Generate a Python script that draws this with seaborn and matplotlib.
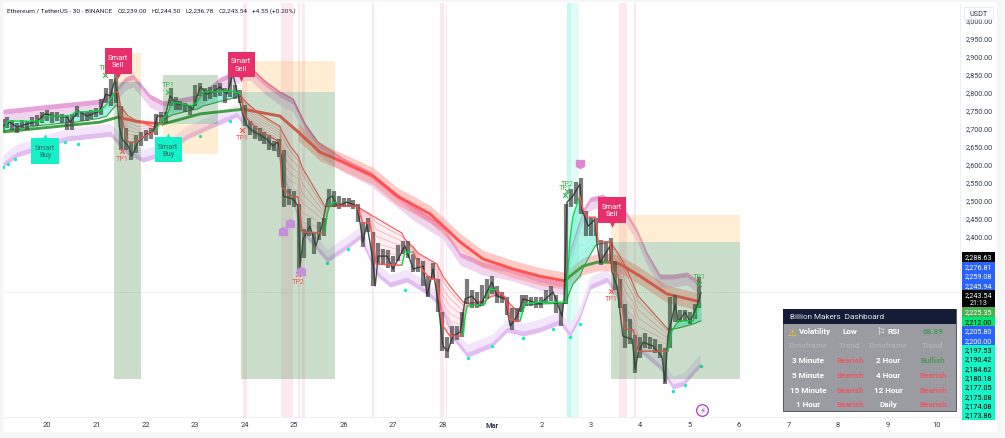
import numpy as np
import seaborn as sns
import matplotlib.pyplot as plt
from matplotlib.patches import Rectangle
from matplotlib.path import Path

# Candle path (day number, Mar 1 = 29)
price_days = [19.11, 19.25, 19.39, 19.60, 19.80, 19.96, 20.16, 20.41, 20.47, 20.63, 20.81, 21.07, 21.19, 21.28, 21.38, 21.42,
              21.46, 21.52, 21.64, 21.72, 21.84, 22.02, 22.15, 22.23, 22.39, 22.49, 22.63, 22.83, 22.95, 23.10, 23.24, 23.36,
              23.50, 23.64, 23.76, 23.86, 23.97, 24.05, 24.17, 24.45, 24.57, 24.67, 24.75, 24.78, 24.98, 25.08, 25.12, 25.18,
              25.32, 25.44, 25.56, 25.67, 25.77, 25.87, 26.07, 26.27, 26.33, 26.39, 26.47, 26.58, 26.64, 26.70, 26.88, 27.00,
              27.24, 27.41, 27.61, 27.69, 27.81, 27.91, 28.01, 28.11, 28.21, 28.36, 28.46, 28.60, 28.76, 29.00, 29.10, 29.27,
              29.37, 29.51, 29.63, 29.97, 30.24, 30.42, 30.46, 30.52, 30.64, 30.78, 30.82, 30.95, 31.09, 31.13, 31.19, 31.39,
              31.43, 31.53, 31.65, 31.84, 31.90, 31.96, 32.06, 32.26, 32.44, 32.50, 32.56, 32.71, 32.77, 32.91, 33.01, 33.15,
              33.23]
price_vals = [2705, 2716, 2702, 2711, 2719, 2739, 2733, 2730, 2716, 2747, 2733, 2747, 2794, 2789, 2836, 2780,
              2705, 2669, 2650, 2622, 2661, 2683, 2689, 2733, 2733, 2789, 2766, 2764, 2752, 2814, 2794, 2800,
              2814, 2794, 2850, 2794, 2733, 2705, 2691, 2669, 2650, 2661, 2614, 2511, 2502, 2483, 2316, 2391,
              2427, 2372, 2427, 2502, 2511, 2483, 2494, 2483, 2439, 2383, 2433, 2344, 2261, 2344, 2344, 2308,
              2372, 2308, 2316, 2233, 2308, 2216, 2094, 2080, 2122, 2133, 2225, 2233, 2205, 2272, 2233, 2225,
              2150, 2177, 2225, 2211, 2244, 2177, 2225, 2494, 2511, 2544, 2475, 2427, 2447, 2372, 2327, 2372,
              2300, 2261, 2122, 2113, 2030, 2077, 2105, 2094, 2066, 1994, 2122, 2211, 2161, 2188, 2161, 2205,
              2243]

# Candle ranges every 0.1 day from 19.1
candle_days = [19.1, 19.2, 19.3, 19.4, 19.5, 19.6, 19.7, 19.8, 19.9, 20.0, 20.1, 20.2, 20.3, 20.4, 20.5, 20.6, 20.7, 20.8, 20.9, 21.0,
               21.1, 21.2, 21.3, 21.4, 21.5, 21.6, 21.7, 21.8, 21.9, 22.0, 22.1, 22.2, 22.3, 22.4, 22.5, 22.6, 22.7, 22.8, 22.9, 23.0,
               23.1, 23.2, 23.3, 23.4, 23.5, 23.6, 23.7, 23.8, 23.9, 24.0, 24.1, 24.2, 24.3, 24.4, 24.5, 24.6, 24.7, 24.8, 24.9, 25.0,
               25.1, 25.2, 25.3, 25.4, 25.5, 25.6, 25.7, 25.8, 25.9, 26.0, 26.1, 26.2, 26.3, 26.4, 26.5, 26.6, 26.7, 26.8, 26.9, 27.0,
               27.1, 27.2, 27.3, 27.4, 27.5, 27.6, 27.7, 27.8, 27.9, 28.0, 28.1, 28.2, 28.3, 28.4, 28.5, 28.6, 28.7, 28.8, 28.9, 29.0,
               29.1, 29.2, 29.3, 29.4, 29.5, 29.6, 29.7, 29.8, 29.9, 30.0, 30.1, 30.2, 30.3, 30.4, 30.5, 30.6, 30.7, 30.8, 30.9, 31.0,
               31.1, 31.2, 31.3, 31.4, 31.5, 31.6, 31.7, 31.8, 31.9, 32.0, 32.1, 32.2, 32.3, 32.4, 32.5, 32.6, 32.7, 32.8, 32.9, 33.0,
               33.1, 33.2]
candle_lows = [2690, 2700, 2695, 2685, 2700, 2695, 2705, 2705, 2715, 2720, 2715, 2720, 2715, 2695, 2695, 2730, 2720, 2720, 2725, 2730,
               2735, 2770, 2760, 2770, 2640, 2640, 2610, 2630, 2650, 2665, 2670, 2680, 2715, 2715, 2760, 2750, 2750, 2745, 2735, 2760,
               2790, 2775, 2780, 2785, 2790, 2770, 2785, 2780, 2770, 2705, 2680, 2670, 2665, 2655, 2640, 2635, 2620, 2480, 2485, 2480,
               2300, 2340, 2400, 2350, 2390, 2400, 2480, 2480, 2475, 2480, 2480, 2475, 2440, 2370, 2410, 2260, 2320, 2320, 2310, 2300,
               2330, 2350, 2340, 2300, 2300, 2260, 2230, 2280, 2190, 2080, 2060, 2100, 2110, 2120, 2210, 2200, 2200, 2205, 2225, 2240,
               2215, 2215, 2180, 2140, 2160, 2190, 2205, 2205, 2200, 2200, 2215, 2220, 2185, 2150, 2210, 2480, 2490, 2460, 2400, 2400,
               2400, 2320, 2330, 2330, 2250, 2200, 2090, 2100, 2020, 2060, 2090, 2085, 2075, 2060, 1990, 2090, 2160, 2160, 2165, 2155,
               2170, 2200]
candle_highs = [2725, 2730, 2722, 2715, 2722, 2720, 2730, 2735, 2745, 2750, 2745, 2745, 2740, 2735, 2740, 2760, 2745, 2745, 2750, 2755,
                2780, 2810, 2835, 2860, 2760, 2700, 2660, 2680, 2690, 2695, 2700, 2740, 2745, 2745, 2810, 2785, 2775, 2770, 2765, 2820,
                2825, 2810, 2815, 2820, 2825, 2810, 2860, 2820, 2805, 2765, 2720, 2705, 2700, 2690, 2680, 2665, 2670, 2640, 2530, 2525,
                2490, 2420, 2450, 2410, 2440, 2450, 2530, 2525, 2510, 2505, 2505, 2500, 2490, 2440, 2450, 2410, 2380, 2365, 2360, 2345,
                2375, 2385, 2385, 2350, 2340, 2330, 2290, 2325, 2280, 2190, 2120, 2150, 2150, 2190, 2280, 2250, 2245, 2265, 2280, 2290,
                2260, 2245, 2230, 2200, 2200, 2235, 2235, 2230, 2230, 2230, 2250, 2260, 2235, 2210, 2490, 2530, 2550, 2560, 2470, 2450,
                2450, 2390, 2385, 2395, 2330, 2280, 2210, 2170, 2125, 2120, 2130, 2120, 2115, 2100, 2090, 2230, 2235, 2195, 2195, 2190,
                2210, 2285]

# Upper and lower envelopes
upper_days = [19.11, 20.06, 21.07, 21.34, 21.58, 21.74, 22.08, 22.35, 23.10, 23.50, 23.90, 24.11, 24.41, 24.71, 24.98, 25.22,
              25.48, 25.99, 26.53, 27.00, 27.41, 28.01, 28.36, 28.82, 29.37, 29.97, 30.44, 30.58, 30.74, 30.84, 30.99, 31.23,
              31.43, 31.73, 31.94, 32.14, 32.40, 32.66, 32.95, 33.21]
upper_vals = [2752, 2766, 2780, 2802, 2841, 2850, 2794, 2775, 2794, 2841, 2864, 2869, 2830, 2800, 2780, 2711,
              2661, 2614, 2577, 2525, 2480, 2427, 2355, 2327, 2313, 2286, 2272, 2364, 2433, 2475, 2508, 2516,
              2502, 2466, 2419, 2355, 2294, 2294, 2300, 2272]
lower_days = [19.11, 19.39, 20.41, 21.28, 21.62, 21.94, 22.35, 22.83, 23.36, 23.84, 24.01, 24.65, 24.78, 24.92, 25.18, 25.67,
              26.07, 26.33, 26.68, 26.94, 27.28, 27.61, 27.95, 28.21, 28.50, 29.00, 29.31, 29.63, 29.97, 30.38, 30.58, 30.78,
              30.99, 31.33, 31.59, 32.00, 32.40, 32.66, 32.87, 33.21]
lower_vals = [2591, 2619, 2664, 2677, 2627, 2605, 2622, 2669, 2702, 2730, 2702, 2633, 2558, 2511, 2405, 2327,
              2364, 2391, 2288, 2258, 2272, 2244, 2205, 2113, 2063, 2091, 2133, 2122, 2133, 2155, 2119, 2169,
              2252, 2272, 2216, 2077, 2030, 1975, 1983, 2036]
cyan_days = [19.11, 19.21, 19.35, 20.36, 20.63, 23.10, 23.70, 25.67, 26.09, 27.24, 28.52, 29.00, 29.63, 30.24, 30.58, 30.78,
             32.66, 32.91, 33.23]
cyan_vals = [2591, 2600, 2614, 2661, 2655, 2677, 2719, 2325, 2364, 2250, 2061, 2094, 2116, 2141, 2119, 2155,
             1969, 1986, 2039]

# Slow average, split by trend colour
slow_green_1 = ([19.11, 20.06, 21.07, 21.44], [2689, 2702, 2716, 2730])
slow_red_1 = ([21.44, 21.78, 22.08, 22.35], [2730, 2719, 2714, 2711])
slow_green_2 = ([22.35, 23.10, 23.97], [2711, 2739, 2752])
slow_red_2 = ([23.97, 24.71, 25.08, 25.52, 25.99, 26.60, 27.08, 27.75, 28.36, 28.82, 29.43, 29.97, 30.48],
              [2752, 2733, 2689, 2633, 2605, 2566, 2511, 2461, 2383, 2336, 2308, 2288, 2275])
slow_green_3 = ([30.48, 30.58, 30.84, 31.13, 31.39], [2275, 2288, 2316, 2327, 2327])
slow_red_3 = ([31.39, 31.59, 32.00, 32.54, 33.15], [2327, 2322, 2288, 2239, 2219])

# Fast stair line and its base: days, fast, base, line colour, fill colour
fan_segments = [
    ([19.11, 19.21, 19.92, 19.96, 20.47, 20.57, 21.07, 21.21, 21.38],
     [2691, 2719, 2719, 2733, 2733, 2744, 2747, 2766, 2800],
     [2691, 2694, 2708, 2708, 2716, 2716, 2727, 2733, 2761], 'g', 'g'),
    ([21.38, 21.44, 21.54, 21.64, 21.82, 21.94, 22.19],
     [2800, 2800, 2711, 2661, 2661, 2675, 2691],
     [2761, 2761, 2752, 2733, 2719, 2714, 2702], 'r', 'r'),
    ([22.19, 22.23, 22.45, 22.53, 22.93, 23.04, 23.16, 23.76, 23.93],
     [2691, 2702, 2744, 2772, 2761, 2772, 2800, 2802, 2794],
     [2702, 2708, 2730, 2736, 2750, 2752, 2761, 2783, 2789], 'g', 'g'),
    ([23.93, 23.97, 24.05, 24.31, 24.71, 24.75, 24.92, 25.08, 25.16, 25.62],
     [2794, 2744, 2725, 2691, 2661, 2536, 2511, 2508, 2411, 2408],
     [2789, 2780, 2769, 2738, 2705, 2691, 2650, 2622, 2591, 2483], 'r', 'r'),
    ([25.62, 25.67, 25.73, 25.87], [2408, 2461, 2489, 2494], [2483, 2483, 2483, 2483], 'g', 'r'),
    ([25.87, 26.27, 26.39, 26.53, 26.59, 26.66, 27.04, 27.18],
     [2483, 2483, 2436, 2436, 2391, 2322, 2319, 2319],
     [2483, 2483, 2472, 2461, 2455, 2450, 2419, 2408], 'r', 'r'),
    ([27.18, 27.24, 27.41], [2319, 2355, 2355], [2408, 2391, 2369], 'g', 'r'),
    ([27.41, 27.51, 27.75, 27.89, 28.01, 28.15, 28.42],
     [2355, 2322, 2280, 2280, 2150, 2122, 2122],
     [2369, 2352, 2333, 2322, 2288, 2261, 2216], 'r', 'r'),
    ([28.42, 28.46, 28.50, 28.86, 28.96, 29.10],
     [2122, 2177, 2205, 2211, 2252, 2250],
     [2216, 2216, 2213, 2219, 2230, 2236], 'g', 'r'),
    ([29.10, 29.27, 29.37, 29.47, 29.57],
     [2250, 2230, 2169, 2164, 2164],
     [2236, 2225, 2211, 2197, 2191], 'r', 'r'),
    ([29.57, 29.67, 29.97, 30.50], [2164, 2211, 2216, 2216], [2191, 2208, 2211, 2213], 'g', 'g'),
    ([30.50, 30.58, 30.64, 30.78], [2216, 2391, 2455, 2511], [2216, 2247, 2266, 2288], 'g', 'g'),
    ([30.78, 30.84, 30.92, 31.09, 31.15, 31.39],
     [2511, 2475, 2452, 2452, 2383, 2383],
     [2288, 2308, 2330, 2372, 2377, 2383], 'r', 'g'),
    ([31.39, 31.45, 31.55, 31.69, 31.86, 31.96, 32.56],
     [2383, 2300, 2294, 2141, 2139, 2080, 2080],
     [2383, 2372, 2353, 2319, 2266, 2233, 2141], 'r', 'r'),
    ([32.56, 32.64, 32.77, 33.07, 33.17, 33.23],
     [2080, 2136, 2164, 2164, 2205, 2211],
     [2141, 2141, 2144, 2155, 2161, 2164], 'g', 'g'),
]

# Shaded zones (day from, day to, price low, price high)
green_boxes = [(21.36, 21.90, 2002, 2827), (23.93, 25.83, 2002, 2800), (31.41, 34.02, 2002, 2383), (22.35, 23.46, 2711, 2847)]
orange_boxes = [(21.36, 21.90, 2827, 2908), (23.93, 25.83, 2800, 2886), (31.41, 34.02, 2383, 2458), (22.35, 23.46, 2627, 2711)]
pink_strips = [(23.97, 24.05), (24.73, 24.98), (25.08, 25.12), (25.16, 25.22), (26.58, 26.62), (27.95, 28.03),
               (28.07, 28.09), (31.57, 31.73), (31.88, 31.92)]
teal_strips = [(30.52, 30.60), (30.60, 30.76)]

# Signal boxes
sell_days = [21.44, 23.93, 31.43]
sell_prices = [2886, 2877, 2472]
buy_days = [19.96, 22.45]
buy_prices = [2636, 2639]

# Take profit marks
tp_green = [('TP1', 21.17, 2847), ('TP1', 22.45, 2800), ('TP2', 30.52, 2525), ('TP1', 30.48, 2514), ('TP1', 33.19, 2266)]
tp_red = [('TP1', 21.52, 2636), ('TP1', 23.95, 2694), ('TP2', 25.08, 2294), ('TP1', 31.41, 2247)]
purple_days = [24.78, 24.92, 25.14]
purple_prices = [2413, 2436, 2302]
pink_day = [30.78]
pink_price = [2600]

# Axes
x_ticks = list(range(20, 39))
x_labels = ['20', '21', '22', '23', '24', '25', '26', '27', '28', 'Mar', '2', '3', '4', '5', '6', '7', '8', '9', '10']
y_ticks = list(range(2400, 3001, 50))
last_price = 2243.54

# Legend line on top of the chart
title_parts = ['Ethereum / TetherUS \u00b7 30 \u00b7 BINANCE', 'O2,239.00', 'H2,244.50', 'L2,236.78', 'C2,243.54', '+4.55 (+0.20%)']
title_x = [7, 118, 152, 186, 219, 252]

# Right hand price tags
tag_values = ['2,288.63', '2,276.81', '2,259.08', '2,245.94', '2,243.54\n21:13', '2,225.35', '2,212.00', '2,205.80', '2,200.00',
              '2,197.53', '2,190.42', '2,184.62', '2,180.18', '2,177.05', '2,175.08', '2,174.08', '2,173.86']
tag_colors = ['#000000', '#2962ff', '#2962ff', '#2962ff', '#000000', '#4caf50', '#00e676', '#2962ff', '#2962ff',
              '#14f5c8', '#14f5c8', '#14f5c8', '#14f5c8', '#14f5c8', '#14f5c8', '#14f5c8', '#14f5c8']
tag_text = ['white', 'white', 'white', 'white', 'white', 'white', 'black', 'white', 'white',
            'black', 'black', 'black', 'black', 'black', 'black', 'black', 'black']

# Dashboard table
dash_title = 'Billion Makers  Dashboard'
dash_rows = [
    ['Timeframe', 'Trend', 'Timeframe', 'Trend'],
    ['3 Minute', 'Bearish', '2 Hour', 'Bullish'],
    ['5 Minute', 'Bearish', '4 Hour', 'Bearish'],
    ['15 Minute', 'Bearish', '12 Hour', 'Bearish'],
    ['1 Hour', 'Bearish', 'Daily', 'Bearish'],
]

sns.set_theme(style='white')
plt.rcParams['font.family'] = ['Roboto', 'DejaVu Sans']

GREEN = '#00e040'
RED = '#ff5252'
W, H = 1005, 439

fig = plt.figure(figsize=(W / 100, H / 100), dpi=100, facecolor='#f6f6f7')

# white panel behind everything
bg = fig.add_axes([3 / W, 1 - 433 / H, 994 / W, 430 / H], facecolor='white')
bg.set_xticks([])
bg.set_yticks([])
sns.despine(ax=bg, left=True, bottom=True)

ax = fig.add_axes([3 / W, 1 - 418 / H, 957 / W, 414 / H], facecolor='none')
ax.set_xlim(19.11, 38.47)
ax.set_ylim(1897, 3047)


def line(x, y, color, lw=1.0, z=5, alpha=1.0):
    sns.lineplot(x=x, y=y, sort=False, estimator=None, color=color, linewidth=lw, alpha=alpha,
                 zorder=z, ax=ax, legend=False)


for a, b in pink_strips:
    ax.axvspan(a, b, color='#fce4ec', lw=0, ymin=0, ymax=1, zorder=1, alpha=0.8)
ax.axvspan(teal_strips[0][0], teal_strips[0][1], color='#c6f8ee', lw=0, zorder=1)
ax.axvspan(teal_strips[1][0], teal_strips[1][1], color='#e2fbf6', lw=0, zorder=1)

# envelopes
up_d, up_v = np.array(upper_days), np.array(upper_vals)
lo_d, lo_v = np.array(lower_days), np.array(lower_vals)
ax.fill_between(up_d, up_v - 14, up_v - 36, color='#f1d5ee', lw=0, zorder=2)
ax.fill_between(up_d, up_v, up_v - 14, color='#e6a3da', lw=0, zorder=2)
ax.fill_between(lo_d, lo_v + 14, lo_v + 36, color='#f3e6fb', lw=0, zorder=2)
ax.fill_between(lo_d, lo_v, lo_v + 14, color='#e2bdf2', lw=0, zorder=2)
line(upper_days[11:22], upper_vals[11:22], '#d81b60', 1.0, 3, 0.55)
sns.scatterplot(x=cyan_days, y=cyan_vals, color='#1de9c6', s=6, linewidth=0, zorder=3, ax=ax, legend=False)

# ribbon round the slow average
rib_d = np.array(slow_red_2[0][2:] + slow_green_3[0] + slow_red_3[0])
rib_v = np.array(slow_red_2[1][2:] + slow_green_3[1] + slow_red_3[1])
ax.fill_between(rib_d, rib_v - 24, rib_v + 24, color='#ff8a80', alpha=0.45, lw=0, zorder=3)

# fan between the stair line and its base
for days, fast, base, line_c, fill_c in fan_segments:
    fast, base = np.array(fast), np.array(base)
    if fill_c == 'g':
        ax.fill_between(days, fast, base, color='#19e6b8', alpha=0.35, lw=0, zorder=3)
        shade = '#7df5d8'
    else:
        ax.fill_between(days, fast, base, color='#f06a80', alpha=0.1, lw=0, zorder=3)
        shade = '#f06a80'
    for t in (0.15, 0.3, 0.45, 0.6, 0.75, 0.9):
        ax.plot(days, fast + t * (base - fast), color=shade, lw=0.4, alpha=0.3 + 0.5 * t, zorder=3)
    base_c = '#43a047' if fill_c == 'g' else RED
    line(days, base, base_c, 0.8, 4)

for seg, col in [(slow_green_1, '#43a047'), (slow_red_1, RED), (slow_green_2, '#43a047'),
                 (slow_red_2, RED), (slow_green_3, '#43a047'), (slow_red_3, RED)]:
    line(seg[0], seg[1], col, 2.1, 5)

# candles
ax.vlines(candle_days, candle_lows, candle_highs, color='#444444', lw=3.0, alpha=0.7, zorder=6)
line(price_days, price_vals, '#303030', 1.0, 6, 0.85)

for days, fast, base, line_c, fill_c in fan_segments:
    line(days, fast, GREEN if line_c == 'g' else RED, 1.0, 7)

# zones sit over the candles
for d0, d1, p0, p1 in green_boxes:
    ax.add_patch(Rectangle((d0, p0), d1 - d0, p1 - p0, color='#2e7d32', alpha=0.25, lw=0, zorder=8))
for d0, d1, p0, p1 in orange_boxes:
    ax.add_patch(Rectangle((d0, p0), d1 - d0, p1 - p0, color='#ff9800', alpha=0.17, lw=0, zorder=8))

ax.axhline(last_price, color='#c9c9c9', lw=0.5, ls=(0, (1, 2)), zorder=4)

# signal boxes
for d, p in zip(sell_days, sell_prices):
    ax.add_patch(Rectangle((d - 0.275, p - 35), 0.55, 70, color='#e7306b', lw=0, zorder=10))
    ax.scatter([d], [p - 39], marker='v', s=22, color='#e7306b', lw=0, zorder=10)
    ax.text(d, p, 'Smart\nSell', color='white', fontsize=5.4, ha='center', va='center', linespacing=1.15, zorder=11)
for d, p in zip(buy_days, buy_prices):
    ax.add_patch(Rectangle((d - 0.275, p - 35), 0.55, 70, color='#14f0c8', lw=0, zorder=10))
    ax.scatter([d], [p + 39], marker='^', s=22, color='#14f0c8', lw=0, zorder=10)
    ax.text(d, p, 'Smart\nBuy', color='#2f6b5e', fontsize=5.4, ha='center', va='center', linespacing=1.15, zorder=11)

# take profit marks
for label, d, p in tp_green:
    ax.scatter([d], [p], marker='x', s=12, color='#4caf50', lw=0.8, zorder=9)
    ax.annotate(label, (d, p), xytext=(0, 5.5), textcoords='offset points', color='#4caf50', fontsize=5.2,
                ha='center', va='center', zorder=9)
for label, d, p in tp_red:
    ax.scatter([d], [p], marker='x', s=12, color=RED, lw=0.8, zorder=9)
    ax.annotate(label, (d, p), xytext=(0, -5.5), textcoords='offset points', color=RED, fontsize=5.2,
                ha='center', va='center', zorder=9)

house = Path([(-1, -1), (1, -1), (1, 0.5), (0, 1), (-1, 0.5), (-1, -1)], closed=True)
house_down = Path([(-1, 1), (1, 1), (1, -0.5), (0, -1), (-1, -0.5), (-1, 1)], closed=True)
ax.scatter(purple_days, purple_prices, marker=house, s=45, color='#c690dd', lw=0, zorder=9)
ax.scatter(pink_day, pink_price, marker=house_down, s=45, color='#df86cf', lw=0, zorder=9)

# lightning mark
ax.scatter([33.25], [1916], s=70, facecolor='white', edgecolor='#a93cc4', lw=0.9, zorder=9)
ax.text(33.25, 1916, '\u26a1', color='#a93cc4', fontsize=6.5, ha='center', va='center', family='DejaVu Sans', zorder=10)

# axes
ax.set_xticks(x_ticks, x_labels)
ax.set_yticks(y_ticks, [f'{v:,.2f}' for v in y_ticks])
ax.yaxis.tick_right()
ax.tick_params(axis='x', length=0, pad=3, labelsize=5.4, labelcolor='#333a4a')
ax.tick_params(axis='y', length=0, pad=3.8, labelsize=5.1, labelcolor='#333a4a')
ax.get_xticklabels()[9].set_fontweight('bold')
ax.set_xlabel('')
ax.set_ylabel('')
for name, spine in ax.spines.items():
    spine.set_visible(name in ('right', 'bottom'))
    spine.set_color('#eceef2')
    spine.set_linewidth(0.6)

# overlay in picture coordinates for title, tags and dashboard
ov = fig.add_axes([0, 0, 1, 1], facecolor='none')
ov.set_xlim(0, W)
ov.set_ylim(H, 0)
ov.axis('off')

for part, x in zip(title_parts, title_x):
    ov.text(x, 11, part, color='#1f2433', fontsize=4.65, va='center', ha='left')

ov.add_patch(Rectangle((964, 8), 29, 12, facecolor='white', edgecolor='#e3e5ea', lw=0.5))
ov.text(978.5, 14, 'USDT', color='#333a4a', fontsize=5.2, ha='center', va='center')

tag_top = 253.0
for value, fc, tc in zip(tag_values, tag_colors, tag_text):
    h = 17.0 if '\n' in value else (9.5 if fc != '#14f5c8' else 9.35)
    ov.add_patch(Rectangle((962, tag_top), 33, h, facecolor=fc, lw=0))
    ov.text(978.5, tag_top + h / 2, value, color=tc, fontsize=5.2, ha='center', va='center', linespacing=1.15)
    tag_top += h

# dashboard
ov.add_patch(Rectangle((783, 310), 173, 102, facecolor='#9b9ca1', edgecolor='#55575e', lw=0.7))
ov.add_patch(Rectangle((783, 310), 173, 15, facecolor='#141c36', lw=0))
ov.text(790, 317.5, dash_title, color='#e8e8ee', fontsize=5.9, va='center', ha='left')

col_x = [808, 850, 888, 933]
ov.text(791.5, 332.5, '\u26a0', color='#ffd000', fontsize=7, ha='center', va='center', family='DejaVu Sans')
ov.text(815, 332, 'Volatility', color='white', fontsize=5.9, fontweight='bold', ha='center', va='center')
ov.text(850, 332, 'Low', color='white', fontsize=5.9, fontweight='bold', ha='center', va='center')
ov.text(881, 332, '\u2690', color='white', fontsize=7, ha='center', va='center', family='DejaVu Sans')
ov.text(894, 332, 'RSI', color='white', fontsize=5.9, fontweight='bold', ha='center', va='center')
ov.text(933, 332, '68.89', color='#4c9a58', fontsize=5.9, fontweight='bold', ha='center', va='center')

row_y = [346, 361, 376, 391, 405]
for y, row in zip(row_y, dash_rows):
    for x, cell in zip(col_x, row):
        if cell == 'Bearish':
            c = '#ea5a66'
        elif cell == 'Bullish':
            c = '#4c9a58'
        elif y == row_y[0]:
            c = '#aeb0b5'
        else:
            c = 'white'
        ov.text(x, y, cell, color=c, fontsize=5.9, fontweight='bold', ha='center', va='center')

fig.savefig('out.png', dpi=100, facecolor=fig.get_facecolor())
